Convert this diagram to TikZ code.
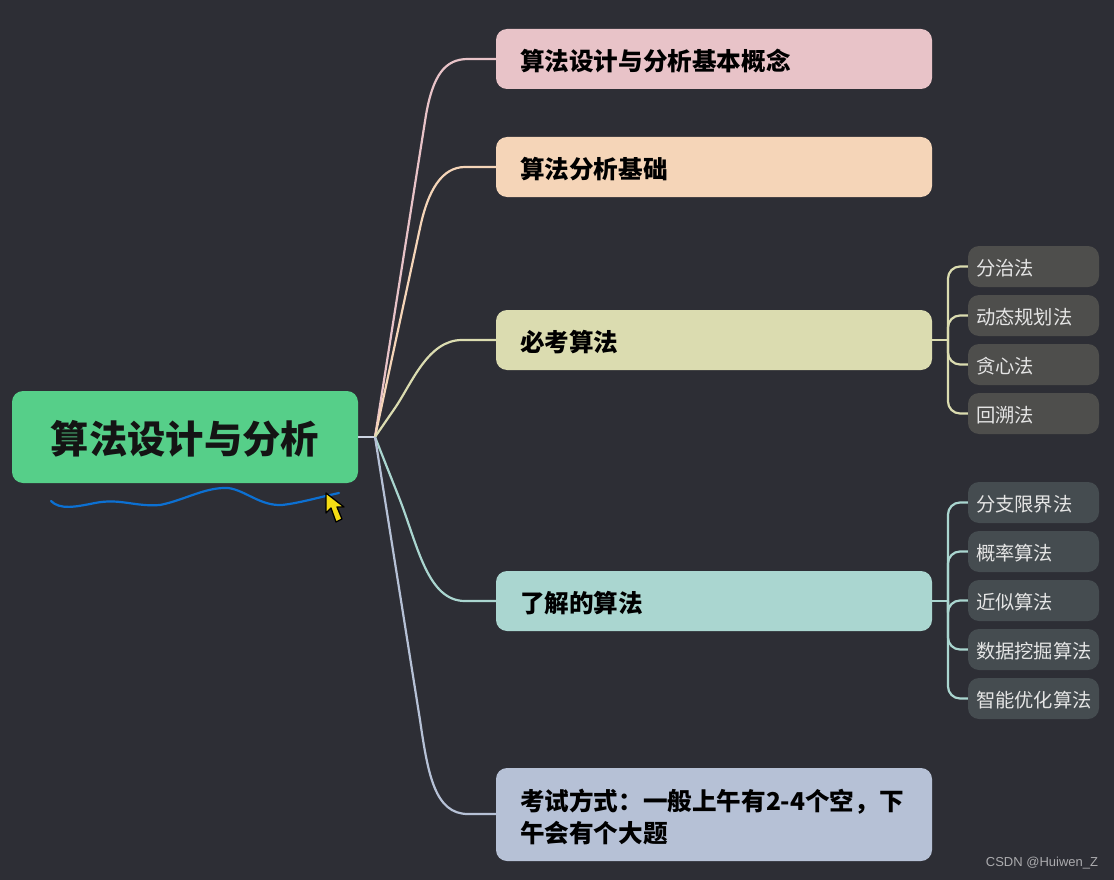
\documentclass[tikz,border=0pt]{standalone}
\usepackage{fontspec}
\usepackage{xcolor}
\setmainfont{Noto Sans CJK SC}
\newfontfamily\markfont{Liberation Sans}

\definecolor{bgdark}{HTML}{2D2E35}
\definecolor{rootgreen}{HTML}{56CF89}
\definecolor{pinkbox}{HTML}{E8C3C8}
\definecolor{peachbox}{HTML}{F5D5B8}
\definecolor{olivebox}{HTML}{DBDCB0}
\definecolor{tealbox}{HTML}{AAD6D0}
\definecolor{bluebox}{HTML}{B6C1D6}
\definecolor{oliveleaf}{HTML}{4E4E4C}
\definecolor{tealleaf}{HTML}{454C50}
\definecolor{squiggle}{HTML}{0C70D2}
\definecolor{cursoryellow}{HTML}{F5DC14}

\tikzset{
    rootbox/.style={rectangle, rounded corners=11pt, fill=rootgreen, minimum width=346pt, minimum height=92pt,
        inner sep=0pt, text height=32pt, text depth=0pt, text=black!92, font=\fontsize{38.3}{46}\selectfont\bfseries},
    topicbox/.style={rectangle, rounded corners=11pt, minimum height=60pt, inner xsep=24pt, inner ysep=0pt,
        text width=388pt, align=left, text height=22.6pt, text depth=0pt, text=black, font=\fontsize{24.6}{32}\selectfont\bfseries},
    leafbox/.style={rectangle, rounded corners=11pt, minimum height=41pt, inner xsep=8pt, inner ysep=0pt,
        text width=115pt, align=left, text height=17pt, text depth=0pt, text=white!90!black, font=\fontsize{19.3}{24}\selectfont},
    branch/.style={line width=2.2pt},
    twig/.style={line width=2.2pt, rounded corners=12pt}
}

\begin{document}
\begin{tikzpicture}[x=1pt, y=-1pt]
        \useasboundingbox (0,0) rectangle (1114,880);
        \fill[bgdark] (0,0) rectangle (1114,880);

        \coordinate (hub) at (375,437);
        \coordinate (trunk3) at (948,340);
        \coordinate (trunk4) at (948,601);

        \node (root) at (185,437) [rootbox] {算法设计与分析};
        \node (n1) at (714,59) [topicbox, fill=pinkbox] {算法设计与分析基本概念};
        \node (n2) at (714,167) [topicbox, fill=peachbox] {算法分析基础};
        \node (n3) at (714,340) [topicbox, fill=olivebox] {必考算法};
        \node (n4) at (714,601) [topicbox, fill=tealbox] {了解的算法};
        \node (n5) at (714,814.5) [topicbox, fill=bluebox, minimum height=93pt, text height=0pt, text depth=8.4pt] {考试方式：一般上午有2-4个空，下\\午会有个大题};

        \node (s1) at (1033.5,266.5) [leafbox, fill=oliveleaf] {分治法};
        \node (s2) at (1033.5,315.5) [leafbox, fill=oliveleaf] {动态规划法};
        \node (s3) at (1033.5,364.5) [leafbox, fill=oliveleaf] {贪心法};
        \node (s4) at (1033.5,413.5) [leafbox, fill=oliveleaf] {回溯法};

        \node (s5) at (1033.5,502.5) [leafbox, fill=tealleaf] {分支限界法};
        \node (s6) at (1033.5,551.5) [leafbox, fill=tealleaf] {概率算法};
        \node (s7) at (1033.5,600.5) [leafbox, fill=tealleaf] {近似算法};
        \node (s8) at (1033.5,649.5) [leafbox, fill=tealleaf] {数据挖掘算法};
        \node (s9) at (1033.5,698.5) [leafbox, fill=tealleaf] {智能优化算法};

        \draw[branch, bluebox!70!white] (root) -- (hub);
        \draw[branch, pinkbox] (hub) -- (426,115) .. controls (433,75) and (445,59) .. (468,59) -- (n1);
        \draw[branch, peachbox] (hub) -- (420,228) .. controls (428,190) and (442,167) .. (465,167) -- (n2);
        \draw[branch, olivebox] (hub) -- (395,408) .. controls (412,383) and (428,340) .. (462,340) -- (n3);
        \draw[branch, tealbox] (hub) -- (400,500) .. controls (418,547) and (428,601) .. (465,601) -- (n4);
        \draw[branch, bluebox] (hub) -- (420,720) .. controls (428,775) and (435,814) .. (468,814) -- (n5);

        \draw[branch, olivebox] (n3) -- (trunk3);
        \foreach \leaf in {s1,s2,s3,s4}
            \draw[twig, olivebox] (trunk3) |- (\leaf);
        \draw[branch, tealbox] (n4) -- (trunk4);
        \foreach \leaf in {s5,s6,s7,s8,s9}
            \draw[twig, tealbox] (trunk4) |- (\leaf);

        \draw[line width=2.2pt, squiggle, line cap=round]
            (51,501) .. controls (60,510) and (75,507) .. (95,503)
            .. controls (120,498) and (135,507) .. (160,505)
            .. controls (185,500) and (205,487) .. (228,488)
            .. controls (245,490) and (260,506) .. (282,505)
            .. controls (300,503) and (320,497) .. (339,493);

        \draw[fill=cursoryellow, draw=black, line width=1.3pt, line join=round]
            (326,493) -- (326,513) -- (331,508) -- (336,522) -- (342,519) -- (337,507) -- (344,507) -- cycle;

        \node (mark) at (1042,863.5) [text=white!60!bgdark, font=\markfont\fontsize{13}{15}\selectfont] {CSDN @Huiwen\_Z};
    \end{tikzpicture}
\end{document}
